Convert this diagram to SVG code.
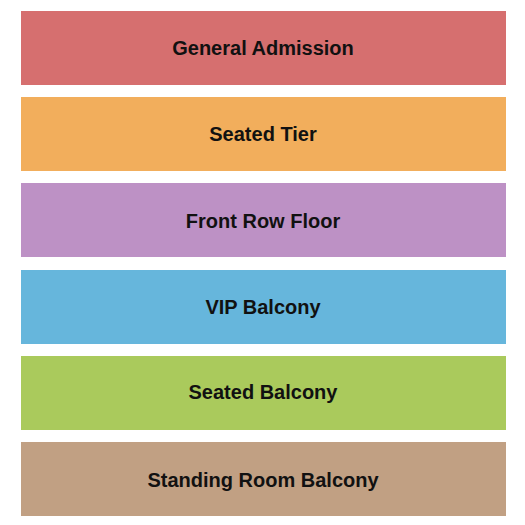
<svg xmlns="http://www.w3.org/2000/svg" width="525" height="525" viewBox="0 0 525 525">
<style>
.s{stroke:none}
.t{font-family:"Liberation Sans",Arial,sans-serif;font-weight:bold;font-size:20px;fill:#111;text-anchor:middle}
</style>
<rect width="525" height="525" fill="#fff"/>
<g id="general-admission"><rect class="s" x="21" y="11" width="485" height="74" fill="#D66F6F"/><text class="t" x="263" y="55">General Admission</text></g>
<g id="seated-tier"><rect class="s" x="21" y="97" width="485" height="74" fill="#F2AE5C"/><text class="t" x="263" y="141">Seated Tier</text></g>
<g id="front-row-floor"><rect class="s" x="21" y="183" width="485" height="74" fill="#BD91C5"/><text class="t" x="263" y="228">Front Row Floor</text></g>
<g id="vip-balcony"><rect class="s" x="21" y="270" width="485" height="74" fill="#66B6DC"/><text class="t" x="263" y="314">VIP Balcony</text></g>
<g id="seated-balcony"><rect class="s" x="21" y="356" width="485" height="74" fill="#AACA5C"/><text class="t" x="263" y="399">Seated Balcony</text></g>
<g id="standing-room-balcony"><rect class="s" x="21" y="442" width="485" height="74" fill="#C1A083"/><text class="t" x="263" y="487">Standing Room Balcony</text></g>
<g id="connectors"/>
</svg>
